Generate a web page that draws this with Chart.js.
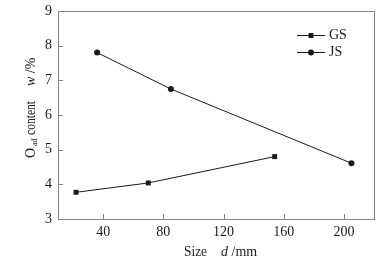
<!DOCTYPE html>
<html lang="en">
<head>
    <meta charset="UTF-8">
    <title>Oad content vs size</title>
    <script src="https://cdn.jsdelivr.net/npm/chart.js"></script>
    <style>
        body { margin: 0; background: #fff; }
        #chart { display: block; }
    </style>
</head>
<body>
    <canvas id="chart" width="389" height="262"></canvas>

    <script>
        // Data
        const gsSize = [22, 70, 154];
        const gsValue = [3.77, 4.04, 4.8];
        const jsSize = [36, 85, 205];
        const jsValue = [7.8, 6.75, 4.61];
        const xTicks = [40, 80, 120, 160, 200];
        const yTicks = [3, 4, 5, 6, 7, 8, 9];

        const serif = '"Liberation Serif", "Times New Roman", serif';
        const ink = '#1a1a1a';
        const axisColor = '#808080';

        function toPoints(xs, ys) {
            return xs.map((x, i) => ({ x: x, y: ys[i] }));
        }

        // draws the frame, inward ticks, tick labels, axis titles and legend
        const decorPlugin = {
            id: 'decor',
            afterDraw(chart) {
                const ctx = chart.ctx;
                const area = chart.chartArea;
                const xs = chart.scales.x;
                const ys = chart.scales.y;
                ctx.save();

                // frame
                ctx.strokeStyle = axisColor;
                ctx.lineWidth = 1;
                ctx.strokeRect(area.left + 0.5, area.top + 0.5, area.right - area.left, area.bottom - area.top);

                // ticks
                ctx.beginPath();
                xTicks.forEach(v => {
                    const px = Math.round(xs.getPixelForValue(v)) + 0.5;
                    ctx.moveTo(px, area.bottom);
                    ctx.lineTo(px, area.bottom - 5);
                });
                yTicks.forEach(v => {
                    const py = Math.round(ys.getPixelForValue(v)) + 0.5;
                    ctx.moveTo(area.left, py);
                    ctx.lineTo(area.left + 5, py);
                });
                ctx.stroke();

                // tick labels
                ctx.fillStyle = ink;
                ctx.font = '14px ' + serif;
                ctx.textAlign = 'center';
                ctx.textBaseline = 'middle';
                xTicks.forEach(v => {
                    ctx.fillText(String(v), xs.getPixelForValue(v), area.bottom + 13);
                });
                ctx.textAlign = 'right';
                yTicks.forEach(v => {
                    ctx.fillText(String(v), area.left - 6, ys.getPixelForValue(v));
                });

                // x title: Size   d /mm
                ctx.textAlign = 'left';
                ctx.textBaseline = 'middle';
                ctx.font = '14px ' + serif;
                ctx.fillText('Size', 184, 252, 23);
                ctx.font = 'italic 14px ' + serif;
                ctx.fillText('d', 221, 252);
                const dw = ctx.measureText('d').width;
                ctx.font = '14px ' + serif;
                ctx.fillText(' /mm', 221 + dw, 252);

                // y title: O_ad content   w /%
                ctx.translate(31, 0);
                ctx.rotate(-Math.PI / 2);
                ctx.font = '14px ' + serif;
                ctx.fillText('O', -158, 0);
                ctx.font = '8px ' + serif;
                ctx.fillText('ad', -146, 4);
                ctx.font = '14px ' + serif;
                ctx.fillText('content', -135, 0, 34);
                ctx.font = 'italic 14px ' + serif;
                ctx.fillText('w', -86, 0);
                const ww = ctx.measureText('w').width;
                ctx.font = '14px ' + serif;
                ctx.fillText(' /%', -86 + ww, 0);
                ctx.setTransform(1, 0, 0, 1, 0, 0);

                // legend
                chart.data.datasets.forEach((ds, i) => {
                    const ly = 35 + i * 17;
                    ctx.strokeStyle = ink;
                    ctx.lineWidth = 1;
                    ctx.beginPath();
                    ctx.moveTo(297, ly + 0.5);
                    ctx.lineTo(325, ly + 0.5);
                    ctx.stroke();
                    ctx.fillStyle = ink;
                    Chart.helpers.drawPoint(ctx, {
                        pointStyle: ds.pointStyle,
                        radius: ds.pointRadius,
                        rotation: 0,
                        borderWidth: 0
                    }, 311, ly + 0.5);
                    ctx.font = '14px ' + serif;
                    ctx.textAlign = 'left';
                    ctx.textBaseline = 'middle';
                    ctx.fillText(ds.label, 329, ly);
                });

                ctx.restore();
            }
        };

        new Chart(document.getElementById('chart'), {
            type: 'line',
            data: {
                datasets: [
                    {
                        label: 'GS',
                        data: toPoints(gsSize, gsValue),
                        borderColor: ink,
                        backgroundColor: ink,
                        borderWidth: 1,
                        pointStyle: 'rect',
                        pointRadius: 3.5,
                        pointBorderWidth: 0
                    },
                    {
                        label: 'JS',
                        data: toPoints(jsSize, jsValue),
                        borderColor: ink,
                        backgroundColor: ink,
                        borderWidth: 1,
                        pointStyle: 'circle',
                        pointRadius: 3,
                        pointBorderWidth: 0
                    }
                ]
            },
            options: {
                responsive: false,
                animation: false,
                layout: { padding: { left: 58, right: 15, top: 11, bottom: 43 } },
                scales: {
                    x: { type: 'linear', min: 10, max: 220, display: false },
                    y: { type: 'linear', min: 3, max: 9, display: false }
                },
                plugins: {
                    legend: { display: false },
                    tooltip: { enabled: false }
                }
            },
            plugins: [decorPlugin]
        });
    </script>
</body>
</html>
